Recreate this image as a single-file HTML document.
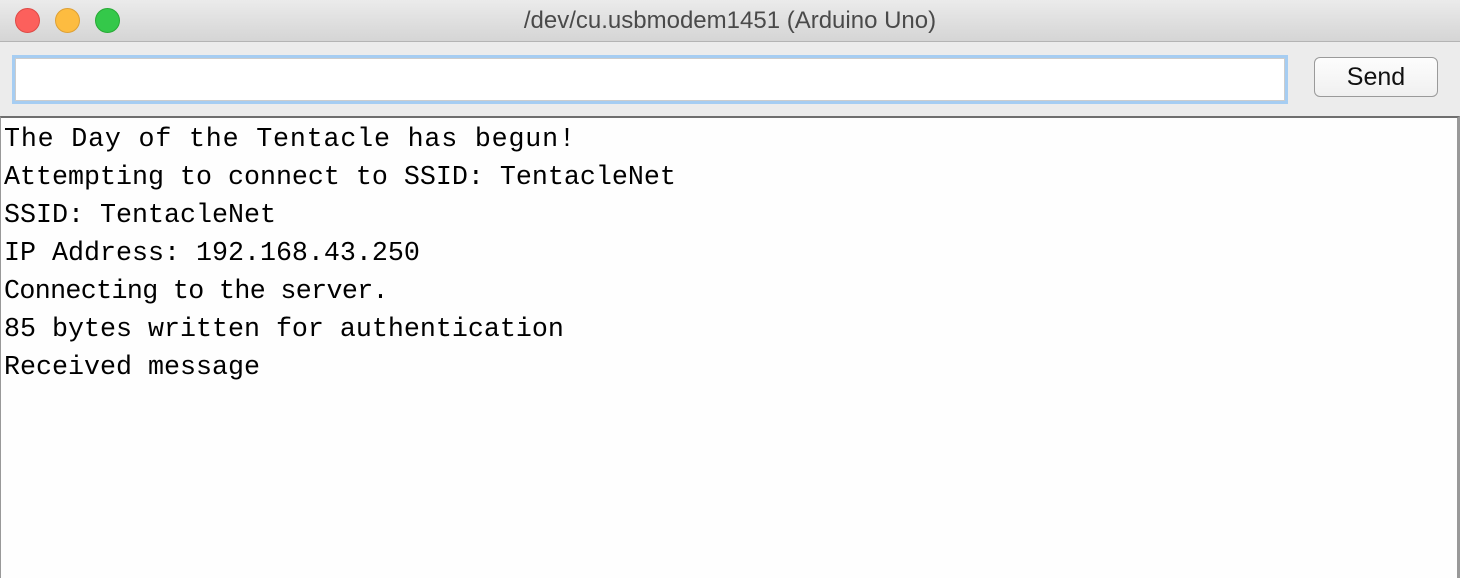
<!DOCTYPE html>
<html><head><style>
html,body{margin:0;padding:0;width:1460px;height:566px;overflow:hidden;background:#ececec;font-family:"Liberation Sans",sans-serif;}
.title{position:absolute;left:0;top:0;width:1460px;height:41px;background:linear-gradient(#ebebeb,#d5d5d5);border-bottom:1px solid #b4b4b4;}
.title .t{position:absolute;left:0;width:1460px;top:7px;text-align:center;font-size:24px;color:#4a4a4a;}
.dot{position:absolute;top:8px;width:23px;height:23px;border-radius:50%;}
.inp{position:absolute;left:12px;top:55px;width:1270px;height:43px;background:#fff;border:3px solid #a6cdf2;box-shadow:inset 0 0 0 1px #ccc;}
.btn{position:absolute;left:1314px;top:57px;width:122px;height:38px;border:1px solid #9a9a9a;border-radius:6px;background:linear-gradient(#fdfdfd,#f0f0f0);font-size:25px;text-align:center;line-height:38px;color:#111;}
.area{position:absolute;left:0;top:116px;width:1456px;height:460px;background:#fefefe;border-top:2px solid #6f6f6f;border-left:1px solid #999;border-right:3px solid #999;}
pre{margin:0;position:absolute;left:3px;top:3px;font-family:"Liberation Mono","DejaVu Sans Mono",monospace;font-size:26.67px;line-height:38px;color:#000;}
</style></head><body>
<div class="title">
<div class="dot" style="left:15px;background:#fc605c;border:0.5px solid #de4a46"></div>
<div class="dot" style="left:55px;background:#fdbc40;border:0.5px solid #dea034"></div>
<div class="dot" style="left:95px;background:#34c84a;border:0.5px solid #27aa35"></div>
<div class="t">/dev/cu.usbmodem1451 (Arduino Uno)</div>
</div>
<div class="inp"></div>
<div class="btn">Send</div>
<div class="area"><pre><span style="letter-spacing:0.82px">The Day of the Tentacle has begun!</span>
Attempting to connect to SSID: TentacleNet
SSID: TentacleNet
IP Address: 192.168.43.250
<span style="letter-spacing:-0.64px">Connecting to the server.</span>
85 bytes written for authentication
Received message</pre></div>
</body></html>
